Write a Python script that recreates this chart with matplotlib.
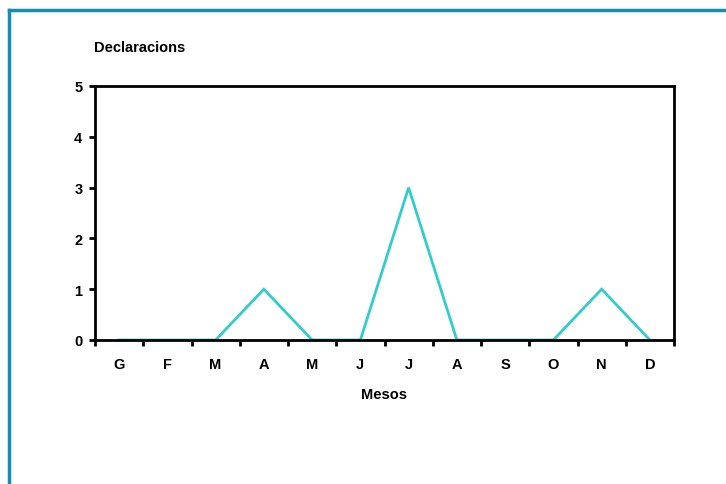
import matplotlib
matplotlib.use("Agg")
import matplotlib.pyplot as plt
from matplotlib.lines import Line2D

plt.rcParams['font.family'] = ['Liberation Sans', 'DejaVu Sans']

months = ["G", "F", "M", "A", "M", "J", "J", "A", "S", "O", "N", "D"]
declaracions = [0, 0, 0, 1, 0, 0, 3, 0, 0, 0, 1, 0]
y_ticks = [0, 1, 2, 3, 4, 5]

W, H = 726, 485
FS = 10.5
fig = plt.figure(figsize=(W / 100, H / 100), dpi=100)
ax = fig.add_axes([95 / W, 1 - 341 / H, (674 - 95) / W, (341 - 87) / H])

x = list(range(len(months)))
ax.plot(x, declaracions, color="#33CCCC", linewidth=2, solid_joinstyle="miter")

ax.set_xlim(-0.5, len(months) - 0.5)
ax.set_ylim(0, 5)
ax.set_yticks(y_ticks)
ax.set_yticklabels([str(v) for v in y_ticks], fontsize=FS, fontweight="bold")
ax.set_xticks(x)
ax.set_xticklabels(months, fontsize=FS, fontweight="bold")
ax.tick_params(axis="x", which="major", length=0, pad=12)
ax.set_xticks([i - 0.5 for i in range(len(months) + 1)], minor=True)
ax.tick_params(axis="x", which="minor", length=4, width=2, direction="out")
ax.tick_params(axis="y", length=4, width=2, direction="out", pad=5)
for s in ax.spines.values():
    s.set_linewidth(2)
    s.set_color("black")

ax.set_xlabel("Mesos", fontsize=FS, fontweight="bold", labelpad=12)
fig.text(140 / W, 1 - 48 / H, "Declaracions", fontsize=FS, fontweight="bold",
         ha="center", va="center")

# outer frame (left and top edges visible)
fig.add_artist(Line2D([9 / W, 9 / W], [0, 1 - 11 / H], transform=fig.transFigure,
                      color="#138FB3", linewidth=2.5))
fig.add_artist(Line2D([9 / W, 1], [1 - 11 / H, 1 - 11 / H], transform=fig.transFigure,
                      color="#138FB3", linewidth=2.5))

fig.savefig("out.png", dpi=100)
